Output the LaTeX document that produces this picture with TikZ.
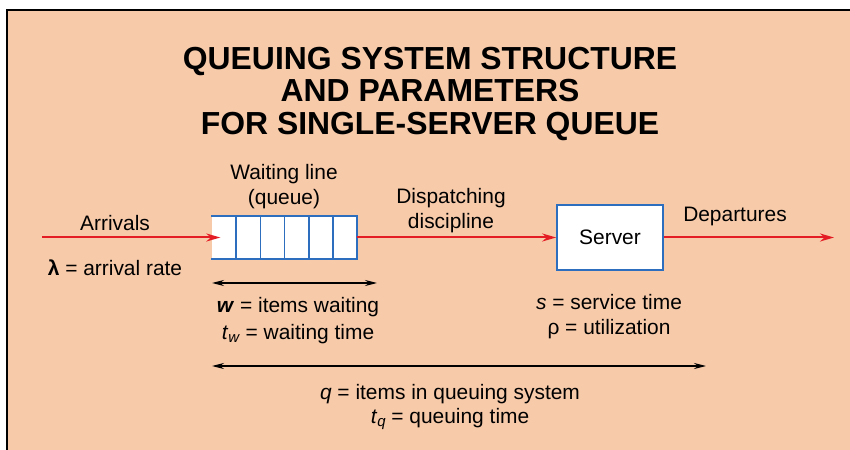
\documentclass[tikz,border=0pt]{standalone}
\usepackage{fontspec}
\setmainfont{Liberation Sans}
\usetikzlibrary{arrows.meta}

\definecolor{paper}{RGB}{247,202,170}
\definecolor{boxblue}{RGB}{45,110,190}
\definecolor{flowred}{RGB}{228,28,36}

\tikzset{
  flow/.style={draw=flowred, line width=2bp, -{Stealth[length=14bp,width=8bp]}},
  span/.style={draw=black, line width=1.3bp, {Stealth[length=12bp,width=6bp]}-{Stealth[length=12bp,width=6bp]}},
  label/.style={font=\fontsize{21}{25}\selectfont, align=center, inner sep=0pt},
  qline/.style={draw=boxblue, line width=1.6bp}
}

\begin{document}
\begin{tikzpicture}[x=1bp, y=-1bp]

  \def\cellw{24.2}

  % Background and frame
  \useasboundingbox (0,0) rectangle (850,450);
  \fill[white] (0,0) rectangle (850,450);
  \fill[paper] (7,10) rectangle (850,450);
  \draw[line width=1.5bp] (7,450) -- (7,10) -- (850,10);

  % Title
  \node[font=\fontsize{32}{33}\selectfont\bfseries, align=center] (title) at (430,94)
    {QUEUING SYSTEM STRUCTURE\\AND PARAMETERS\\FOR SINGLE-SERVER QUEUE};

  % Waiting line with six cells, open on the left
  \node[fill=white, minimum width=145bp, minimum height=43bp, inner sep=0pt] (queue) at (284,237.5) {};
  \draw[qline] (queue.north west) -- (queue.north east) -- (queue.south east) -- (queue.south west);
  \foreach \i in {1,...,5}{
    \draw[qline] (212+\i*\cellw,216) -- (212+\i*\cellw,259);
  }

  % Server
  \node[draw=boxblue, line width=1.6bp, fill=white, minimum width=106bp, minimum height=65bp,
        font=\fontsize{21}{24}\selectfont] (server) at (610,237.5) {Server};

  % Flow of items
  \coordinate (arrin) at (42,237.5);
  \coordinate (depout) at (834,237.5);
  \draw[flow, shorten >=-9bp] (arrin) -- (queue.west);
  \draw[flow] (queue.east) -- (server.west);
  \draw[flow] (server.east) -- (depout);

  % Spans
  \coordinate (wleft) at (212,283);
  \coordinate (wright) at (377,283);
  \coordinate (qleft) at (212,366);
  \coordinate (qright) at (706,366);
  \draw[span] (wleft) -- (wright);
  \draw[span] (qleft) -- (qright);

  % Labels
  \node[label] (arrlbl) at (115,223) {Arrivals};
  \node[label] (lambda) at (115,268) {\textbf{λ} = arrival rate};
  \node[label] (wline) at (284,187) {Waiting line\\(queue)};
  \node[label] (disp) at (451,211) {Dispatching\\discipline};
  \node[label] (deplbl) at (735,216) {Departures};
  \node[label, font=\fontsize{21}{27}\selectfont] (wlbl) at (298,321)
    {\textbf{\textit{w}} = items waiting\\\textit{t}\raisebox{-3bp}{\fontsize{15}{15}\selectfont\textit{w}} = waiting time};
  \node[label] (slbl) at (609,317) {\textit{s} = service time\\ρ = utilization};
  \node[label] (qlbl) at (450,407)
    {\textit{q} = items in queuing system\\\textit{t}\raisebox{-3bp}{\fontsize{15}{15}\selectfont\textit{q}} = queuing time};

\end{tikzpicture}
\end{document}
